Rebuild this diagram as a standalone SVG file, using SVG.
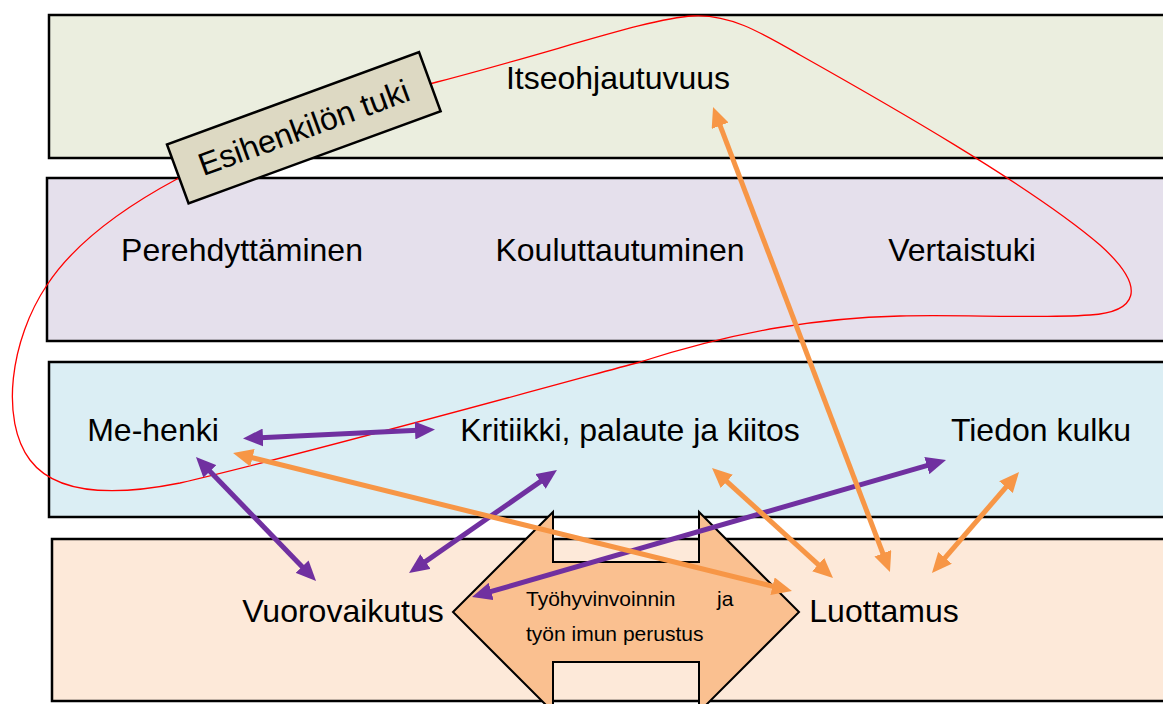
<svg xmlns="http://www.w3.org/2000/svg" width="1163" height="704" viewBox="0 0 1163 704">
<style>
.band{stroke:#000;stroke-width:2.5}
.lbl{font-family:"Liberation Sans",Arial,sans-serif;font-size:32px;fill:#000;text-anchor:middle}
.small{font-family:"Liberation Sans",Arial,sans-serif;font-size:21px;fill:#000}
.pur{stroke:#7030A0;stroke-width:5;fill:none;marker-start:url(#hp);marker-end:url(#hp)}
.ora{stroke:#F79646;stroke-width:5;fill:none;marker-start:url(#ho);marker-end:url(#ho)}
</style>
<defs>
<marker id="hp" viewBox="0 0 20 18" markerUnits="userSpaceOnUse" markerWidth="20" markerHeight="18" refX="8" refY="9" orient="auto-start-reverse"><path d="M0,0 L20,9 L0,18 z" fill="#7030A0"/></marker>
<marker id="ho" viewBox="0 0 20 18" markerUnits="userSpaceOnUse" markerWidth="20" markerHeight="18" refX="8" refY="9" orient="auto-start-reverse"><path d="M0,0 L20,9 L0,18 z" fill="#F79646"/></marker>
</defs>
<rect width="1163" height="704" fill="#fff"/>
<g id="band1"><rect class="band" x="49" y="15" width="1130" height="143" fill="#EBEEDF"/><text class="lbl" x="618" y="89">Itseohjautuvuus</text></g>
<g id="band2"><rect class="band" x="47" y="178" width="1130" height="163" fill="#E5E0EC"/>
<text class="lbl" x="242" y="261">Perehdyttäminen</text>
<text class="lbl" x="620" y="261">Kouluttautuminen</text>
<text class="lbl" x="962" y="261">Vertaistuki</text></g>
<g id="band3"><rect class="band" x="49" y="362" width="1130" height="155" fill="#DBEEF4"/>
<text class="lbl" x="153" y="441">Me-henki</text>
<text class="lbl" x="630" y="441">Kritiikki, palaute ja kiitos</text>
<text class="lbl" x="1041" y="441">Tiedon kulku</text></g>
<g id="band4"><rect class="band" x="52" y="539" width="1130" height="162" fill="#FDE9D9"/>
<text class="lbl" x="343" y="622">Vuorovaikutus</text>
<text class="lbl" x="884" y="622">Luottamus</text></g>
<g id="perustus">
<path d="M453,612 L553,512 L553,562 L699,562 L699,512 L799,612 L699,712 L699,662 L553,662 L553,712 Z" fill="#FAC090" stroke="#000" stroke-width="2"/>
<text class="small" x="526" y="606">Työhyvinvoinnin</text>
<text class="small" x="717" y="606">ja</text>
<text class="small" x="526" y="641">työn imun perustus</text>
</g>
<g id="esihenkilo">
<path d="M177,179 C270,130 350,105 437,82 C560,50 650,18 693,16 C730,14 760,32 800,55 C880,100 1030,185 1100,245 C1150,290 1135,312 1090,315 C1030,319 960,314 900,316 C820,318 740,330 640,362 C500,400 300,455 180,483 C130,493 60,500 30,460 C0,420 10,340 47,285 C70,250 110,215 177,179 Z" fill="none" stroke="#FF0000" stroke-width="1.3"/>
<g transform="translate(303.8,127.8) rotate(-20.1)">
<rect x="-134.2" y="-31.4" width="268.4" height="62.8" fill="#DDD9C3" stroke="#000" stroke-width="2.5"/>
<text class="lbl" x="0" y="11">Esihenkilön tuki</text>
</g>
</g>
<g id="connectors">
<line class="pur" x1="255" y1="437.9" x2="423" y2="430.1"/>
<line class="pur" x1="204.3" y1="465.6" x2="307.7" y2="572.4"/>
<line class="pur" x1="547.1" y1="476.9" x2="418.9" y2="566.1"/>
<line class="pur" x1="934.5" y1="463.3" x2="483.5" y2="593.7"/>
<line class="ora" x1="244.7" y1="455.9" x2="780.3" y2="588.1"/>
<line class="ora" x1="717.3" y1="118.2" x2="885.7" y2="560.8"/>
<line class="ora" x1="720.9" y1="476.1" x2="824.1" y2="569.9"/>
<line class="ora" x1="1011.2" y1="481.1" x2="939.8" y2="563.9"/>
</g>
</svg>
